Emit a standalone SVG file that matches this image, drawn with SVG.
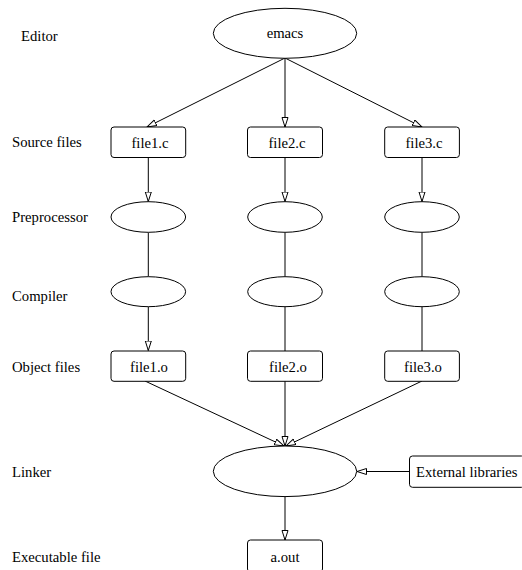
<svg xmlns="http://www.w3.org/2000/svg" width="522" height="570" viewBox="0 0 522 570">
<style>
.n { text-anchor: middle; }
.shape { fill: #fff; stroke: #000; stroke-width: 1; }
.e { fill: none; stroke: #000; stroke-width: 1; }
</style>
<defs>
<marker id="ah" markerUnits="userSpaceOnUse" markerWidth="12" markerHeight="9" refX="10" refY="3.5" orient="auto">
<path d="M0.5,0.5 L10,3.5 L0.5,6.5 z" fill="#fff" stroke="#000" stroke-width="1"/>
</marker>
</defs>
<rect width="522" height="570" fill="#fff"/>
<g font-family="'Liberation Serif', 'DejaVu Serif', serif" font-size="14.7" fill="#000">
<g id="labels">
<text x="21" y="41">Editor</text>
<text x="12" y="147">Source files</text>
<text x="12" y="222">Preprocessor</text>
<text x="12" y="301">Compiler</text>
<text x="12" y="372">Object files</text>
<text x="12" y="477">Linker</text>
<text x="12" y="562">Executable file</text>
</g>
<g id="connectors">
<line class="e" x1="285" y1="58" x2="147" y2="127" marker-end="url(#ah)"/>
<line class="e" x1="285" y1="58" x2="285" y2="127" marker-end="url(#ah)"/>
<line class="e" x1="285" y1="58" x2="422" y2="127" marker-end="url(#ah)"/>
<line class="e" x1="148.3" y1="157" x2="148.3" y2="201.5" marker-end="url(#ah)"/>
<line class="e" x1="285" y1="157" x2="285" y2="201.5" marker-end="url(#ah)"/>
<line class="e" x1="422" y1="157" x2="422" y2="201.5" marker-end="url(#ah)"/>
<line class="e" x1="148.3" y1="232.5" x2="148.3" y2="276.5"/>
<line class="e" x1="285" y1="232.5" x2="285" y2="276.5"/>
<line class="e" x1="422" y1="232.5" x2="422" y2="276.5"/>
<line class="e" x1="148.3" y1="306.5" x2="148.3" y2="350.5" marker-end="url(#ah)"/>
<line class="e" x1="285" y1="306.5" x2="285" y2="351"/>
<line class="e" x1="422" y1="306.5" x2="422" y2="351"/>
<line class="e" x1="145" y1="381" x2="284" y2="446" marker-end="url(#ah)"/>
<line class="e" x1="285" y1="381" x2="285" y2="446" marker-end="url(#ah)"/>
<line class="e" x1="422" y1="381" x2="286" y2="446" marker-end="url(#ah)"/>
<line class="e" x1="409" y1="471.5" x2="357" y2="471.5" marker-end="url(#ah)"/>
<line class="e" x1="285" y1="496.5" x2="285" y2="540" marker-end="url(#ah)"/>
</g>
<g id="emacs"><ellipse class="shape" cx="285" cy="33.3" rx="71.7" ry="25"/><text class="n" x="285" y="37.5">emacs</text></g>
<g id="file1c"><rect class="shape" x="111" y="127" width="74.7" height="30.5" rx="3"/><text class="n" x="150" y="147.5">file1.c</text></g>
<g id="file2c"><rect class="shape" x="247.5" y="127" width="75" height="30.5" rx="3"/><text class="n" x="287" y="147.5">file2.c</text></g>
<g id="file3c"><rect class="shape" x="384.7" y="127" width="74.7" height="30.5" rx="3"/><text class="n" x="424" y="147.5">file3.c</text></g>
<g id="pre1"><ellipse class="shape" cx="148.3" cy="217" rx="37.3" ry="15.3"/></g>
<g id="pre2"><ellipse class="shape" cx="285" cy="217" rx="37.3" ry="15.3"/></g>
<g id="pre3"><ellipse class="shape" cx="422" cy="217" rx="37.3" ry="15.3"/></g>
<g id="comp1"><ellipse class="shape" cx="148.3" cy="291.7" rx="37.3" ry="15"/></g>
<g id="comp2"><ellipse class="shape" cx="285" cy="291.7" rx="37.3" ry="15"/></g>
<g id="comp3"><ellipse class="shape" cx="422" cy="291.7" rx="37.3" ry="15"/></g>
<g id="file1o"><rect class="shape" x="111" y="351" width="74.7" height="30.3" rx="3"/><text class="n" x="149" y="372">file1.o</text></g>
<g id="file2o"><rect class="shape" x="247.5" y="351" width="75" height="30.3" rx="3"/><text class="n" x="288" y="372">file2.o</text></g>
<g id="file3o"><rect class="shape" x="384.7" y="351" width="74.7" height="30.3" rx="3"/><text class="n" x="423" y="372">file3.o</text></g>
<g id="linker"><ellipse class="shape" cx="285" cy="471.3" rx="71.7" ry="25.3"/></g>
<g id="extlibs"><rect class="shape" x="409.5" y="456" width="115" height="31.3" rx="3"/><text x="416" y="477">External libraries</text></g>
<g id="aout"><rect class="shape" x="247.5" y="540" width="75" height="32" rx="3"/><text class="n" x="285" y="561.5">a.out</text></g>
</g>
</svg>
